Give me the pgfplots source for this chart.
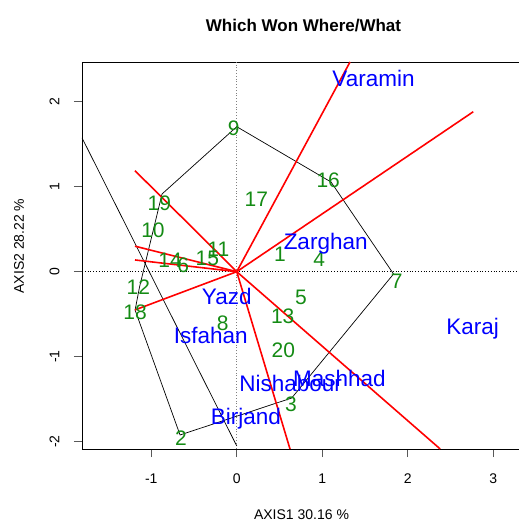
\documentclass[border=0pt]{standalone}
\usepackage{pgfplots}
\pgfplotsset{compat=1.18}
\usepackage{fontspec}
\setmainfont{Liberation Sans}
\definecolor{gcol}{RGB}{20,139,20}
\definecolor{ecol}{RGB}{0,0,255}
\definecolor{rcol}{RGB}{255,0,0}

\pgfplotstableread{
x y lab
-0.035 1.69 9
0.23 0.85 17
-0.905 0.80 19
-0.98 0.49 10
-0.215 0.267 11
-0.78 0.13 14
-0.625 0.07 6
-0.344 0.157 15
0.506 0.208 1
0.966 0.146 4
1.07 1.08 16
1.87 -0.11 7
-1.15 -0.18 12
-1.19 -0.48 18
-0.164 -0.61 8
0.752 -0.30 5
0.538 -0.52 13
0.545 -0.92 20
0.635 -1.556 3
-0.651 -1.953 2
}\genotypes

\pgfplotstableread{
x y lab
1.60 2.27 Varamin
1.04 0.353 Zarghan
2.76 -0.645 Karaj
-0.117 -0.294 Yazd
-0.303 -0.745 Isfahan
0.63 -1.31 Nishabour
1.20 -1.26 Mashhad
0.107 -1.706 Birjand
}\environments

\begin{document}
\begin{tikzpicture}
\begin{axis}[
 scale only axis, width=439pt, height=387pt,
 xmin=-1.81, xmax=3.325, ymin=-2.086, ymax=2.467,
 axis x line*=box, axis y line*=left,
 tick pos=left, tick align=outside, major tick length=8pt,
 xtick={-1,0,1,2,3}, ytick={-2,-1,0,1,2},
 tick style={gray!70!black, line width=0.8pt},
 /pgf/number format/assume math mode=true,
 ticklabel style={font=\fontsize{14}{14}\selectfont},
 xticklabel style={yshift=-13pt},
 yticklabel style={xshift=-11pt, rotate=90, anchor=south},
 title={Which Won Where/What},
 title style={font=\bfseries\fontsize{17}{17}\selectfont, at={(axis description cs:0.5046,1.0788)}, anchor=center},
 xlabel={AXIS1 30.16 \%}, ylabel={AXIS2 28.22 \%},
 label style={font=\fontsize{14}{14}\selectfont},
 xlabel style={at={(axis description cs:0.5,-0.1705)}, anchor=center},
 ylabel style={at={(axis description cs:-0.1435,0.5245)}, anchor=center},
 axis line style={line width=0.8pt},
]
\coordinate (SW) at (rel axis cs:0,0);
% reference lines
\addplot[black, dotted, line width=0.8pt] coordinates {(-1.81,0) (3.325,0)};
\addplot[gray, dotted, line width=0.8pt] coordinates {(0,-2.086) (0,2.467)};
% polygon
\addplot[black, line width=0.7pt] coordinates {
(0.00,1.706) (1.103,1.055) (1.834,-0.027) (0.643,-1.486) (-0.663,-1.921)
(-1.189,-0.451) (-1.137,-0.18) (-0.874,0.914) (0.00,1.706)};
\addplot[black, line width=0.7pt] coordinates {(-1.81,1.575) (0,-2.05)};
% rays
\addplot[rcol, line width=1.6pt] coordinates {(0,0) (1.325,2.467)};
\addplot[rcol, line width=1.6pt] coordinates {(0,0) (2.767,1.882)};
\addplot[rcol, line width=1.6pt] coordinates {(0,0) (2.38,-2.086)};
\addplot[rcol, line width=1.6pt] coordinates {(0,0) (0.623,-2.086)};
\addplot[rcol, line width=1.6pt] coordinates {(0,0) (-1.19,-0.45)};
\addplot[rcol, line width=1.6pt] coordinates {(0,0) (-1.19,0.30)};
\addplot[rcol, line width=1.6pt] coordinates {(0,0) (-1.19,0.138)};
\addplot[rcol, line width=1.6pt] coordinates {(0,0) (-1.19,1.188)};
% labels
\addplot[draw=none, nodes near coords, point meta=explicit symbolic,
  every node near coord/.append style={anchor=center, inner sep=0pt, text=gcol, font=\fontsize{21}{21}\selectfont}]
  table[x=x, y=y, meta=lab] {\genotypes};
\addplot[draw=none, nodes near coords, point meta=explicit symbolic,
  every node near coord/.append style={anchor=center, inner sep=0pt, text depth=0pt, text=ecol, font=\fontsize{22.5}{22.5}\selectfont}]
  table[x=x, y=y, meta=lab] {\environments};
\end{axis}
\pgfresetboundingbox
\path[use as bounding box] ([shift={(-82pt,-71pt)}]SW) rectangle ++(519pt,520pt);
\end{tikzpicture}
\end{document}
